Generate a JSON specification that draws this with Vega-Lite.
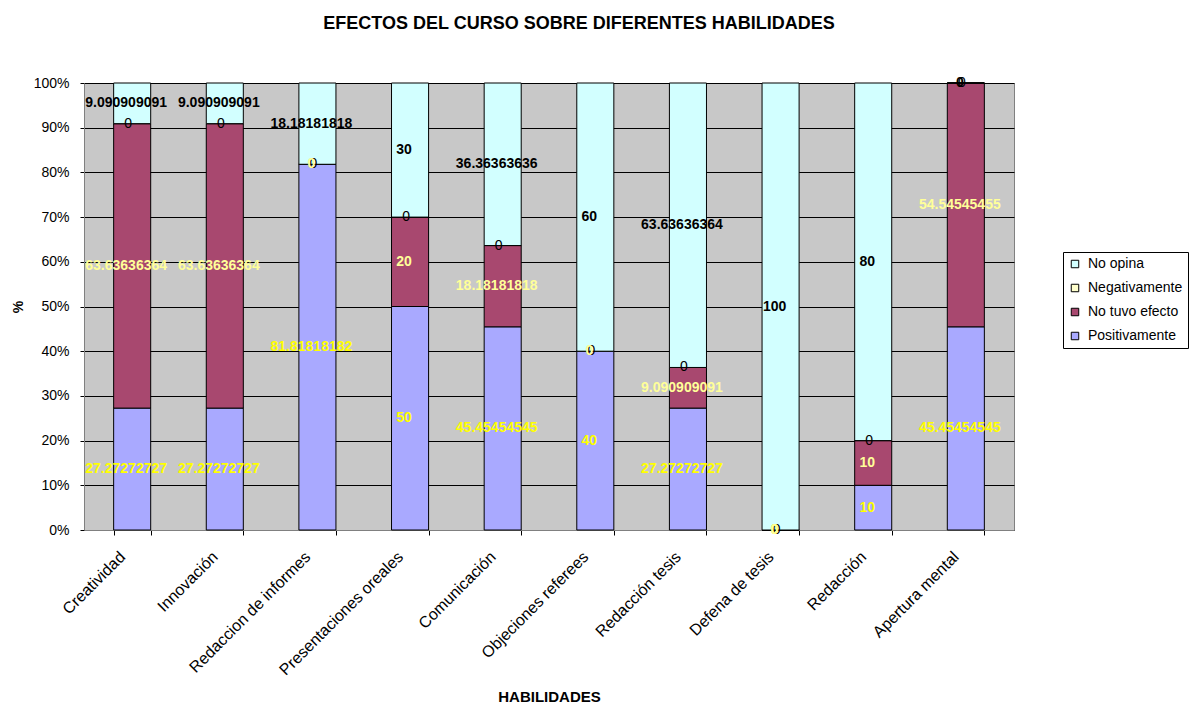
{
  "$schema": "https://vega.github.io/schema/vega-lite/v6.json",
  "width": 930,
  "height": 447,
  "autosize": {"type": "none"},
  "padding": {"left": 84, "top": 83, "right": 175, "bottom": 173},
  "background": "white",
  "config": {
    "font": "Liberation Sans",
    "view": {"fill": "#C8C8C8", "stroke": "#808080", "strokeWidth": 1}
  },
  "title": {
    "text": "EFECTOS DEL CURSO SOBRE DIFERENTES HABILIDADES",
    "fontSize": 18,
    "fontWeight": "bold",
    "color": "black",
    "anchor": "middle",
    "dx": 30,
    "offset": 43
  },
  "data": {
    "values": [
      {"habilidad": "Creatividad", "serie": "Positivamente", "valor": 27.27272727},
      {"habilidad": "Creatividad", "serie": "No tuvo efecto", "valor": 63.63636364},
      {"habilidad": "Creatividad", "serie": "Negativamente", "valor": 0},
      {"habilidad": "Creatividad", "serie": "No opina", "valor": 9.090909091},
      {"habilidad": "Innovación", "serie": "Positivamente", "valor": 27.27272727},
      {"habilidad": "Innovación", "serie": "No tuvo efecto", "valor": 63.63636364},
      {"habilidad": "Innovación", "serie": "Negativamente", "valor": 0},
      {"habilidad": "Innovación", "serie": "No opina", "valor": 9.090909091},
      {"habilidad": "Redaccion de informes", "serie": "Positivamente", "valor": 81.81818182},
      {"habilidad": "Redaccion de informes", "serie": "No tuvo efecto", "valor": 0},
      {"habilidad": "Redaccion de informes", "serie": "Negativamente", "valor": 0},
      {"habilidad": "Redaccion de informes", "serie": "No opina", "valor": 18.18181818},
      {"habilidad": "Presentaciones oreales", "serie": "Positivamente", "valor": 50},
      {"habilidad": "Presentaciones oreales", "serie": "No tuvo efecto", "valor": 20},
      {"habilidad": "Presentaciones oreales", "serie": "Negativamente", "valor": 0},
      {"habilidad": "Presentaciones oreales", "serie": "No opina", "valor": 30},
      {"habilidad": "Comunicación", "serie": "Positivamente", "valor": 45.45454545},
      {"habilidad": "Comunicación", "serie": "No tuvo efecto", "valor": 18.18181818},
      {"habilidad": "Comunicación", "serie": "Negativamente", "valor": 0},
      {"habilidad": "Comunicación", "serie": "No opina", "valor": 36.36363636},
      {"habilidad": "Objeciones referees", "serie": "Positivamente", "valor": 40},
      {"habilidad": "Objeciones referees", "serie": "No tuvo efecto", "valor": 0},
      {"habilidad": "Objeciones referees", "serie": "Negativamente", "valor": 0},
      {"habilidad": "Objeciones referees", "serie": "No opina", "valor": 60},
      {"habilidad": "Redacción tesis", "serie": "Positivamente", "valor": 27.27272727},
      {"habilidad": "Redacción tesis", "serie": "No tuvo efecto", "valor": 9.090909091},
      {"habilidad": "Redacción tesis", "serie": "Negativamente", "valor": 0},
      {"habilidad": "Redacción tesis", "serie": "No opina", "valor": 63.63636364},
      {"habilidad": "Defena de tesis", "serie": "Positivamente", "valor": 0},
      {"habilidad": "Defena de tesis", "serie": "No tuvo efecto", "valor": 0},
      {"habilidad": "Defena de tesis", "serie": "Negativamente", "valor": 0},
      {"habilidad": "Defena de tesis", "serie": "No opina", "valor": 100},
      {"habilidad": "Redacción", "serie": "Positivamente", "valor": 10},
      {"habilidad": "Redacción", "serie": "No tuvo efecto", "valor": 10},
      {"habilidad": "Redacción", "serie": "Negativamente", "valor": 0},
      {"habilidad": "Redacción", "serie": "No opina", "valor": 80},
      {"habilidad": "Apertura mental", "serie": "Positivamente", "valor": 45.45454545},
      {"habilidad": "Apertura mental", "serie": "No tuvo efecto", "valor": 54.54545455},
      {"habilidad": "Apertura mental", "serie": "Negativamente", "valor": 0},
      {"habilidad": "Apertura mental", "serie": "No opina", "valor": 0}
    ]
  },
  "transform": [
    {"calculate": "indexof(['Positivamente','No tuvo efecto','Negativamente','No opina'], datum.serie)", "as": "orden"},
    {"stack": "valor", "groupby": ["habilidad"], "sort": [{"field": "orden", "order": "ascending"}], "as": ["y0", "y1"]},
    {"calculate": "(datum.y0 + datum.y1) / 2", "as": "ymid"}
  ],
  "encoding": {
    "x": {
      "field": "habilidad",
      "type": "nominal",
      "sort": null,
      "scale": {"paddingInner": 0.6, "paddingOuter": 0.32},
      "axis": {
        "title": "HABILIDADES",
        "titleFontSize": 15,
        "titleFontWeight": "bold",
        "titleColor": "black",
        "titleY": 159,
        "labelAngle": -45,
        "labelAlign": "right",
        "labelBaseline": "middle",
        "labelFontSize": 16,
        "labelColor": "black",
        "labelPadding": 19,
        "labelOffset": -10,
        "domainColor": "#808080",
        "tickColor": "black",
        "tickSize": 5,
        "tickBand": "extent",
        "grid": false
      }
    }
  },
  "layer": [
    {
      "mark": {"type": "bar", "stroke": "black", "strokeWidth": 1},
      "encoding": {
        "y": {
          "field": "y0",
          "type": "quantitative",
          "scale": {"domain": [0, 100], "nice": false},
          "axis": {
            "title": "%",
            "titleFontSize": 14,
            "titleFontWeight": "bold",
            "titleColor": "black",
            "titlePadding": 8,
            "values": [0, 10, 20, 30, 40, 50, 60, 70, 80, 90, 100],
            "labelExpr": "datum.value + '%'",
            "labelFontSize": 14,
            "labelColor": "black",
            "labelPadding": 11,
            "grid": true,
            "gridColor": "black",
            "gridWidth": 1,
            "domainColor": "#808080",
            "tickColor": "black",
            "tickSize": 4
          }
        },
        "y2": {"field": "y1"},
        "color": {
          "field": "serie",
          "type": "nominal",
          "scale": {
            "domain": ["No opina", "Negativamente", "No tuvo efecto", "Positivamente"],
            "range": ["#D2FFFF", "#FFFFCC", "#A8486F", "#A9A9FF"]
          },
          "legend": {
            "orient": "none",
            "legendX": 979,
            "legendY": 169,
            "title": null,
            "strokeColor": "black",
            "fillColor": "white",
            "padding": 5,
            "symbolType": "square",
            "symbolSize": 56,
            "symbolStrokeColor": "black",
            "symbolStrokeWidth": 1,
            "labelFontSize": 14,
            "labelColor": "black",
            "labelOffset": 6,
            "rowPadding": 10
          }
        }
      }
    },
    {
      "transform": [{"filter": "datum.serie == 'Negativamente'"}],
      "mark": {"type": "text", "fontSize": 14, "color": "black", "baseline": "middle", "dx": -4},
      "encoding": {
        "y": {"field": "ymid", "type": "quantitative"},
        "text": {"field": "valor", "type": "nominal"}
      }
    },
    {
      "transform": [{"filter": "datum.serie != 'Negativamente'"}],
      "mark": {"type": "text", "fontSize": 14, "fontWeight": "bold", "baseline": "middle", "dx": -6},
      "encoding": {
        "y": {"field": "ymid", "type": "quantitative"},
        "text": {"field": "valor", "type": "nominal"},
        "color": {
          "field": "serie",
          "type": "nominal",
          "scale": {
            "domain": ["No opina", "No tuvo efecto", "Positivamente"],
            "range": ["black", "#FFFF99", "#FFFF00"]
          },
          "legend": null
        }
      }
    }
  ],
  "resolve": {"scale": {"color": "independent"}}
}
